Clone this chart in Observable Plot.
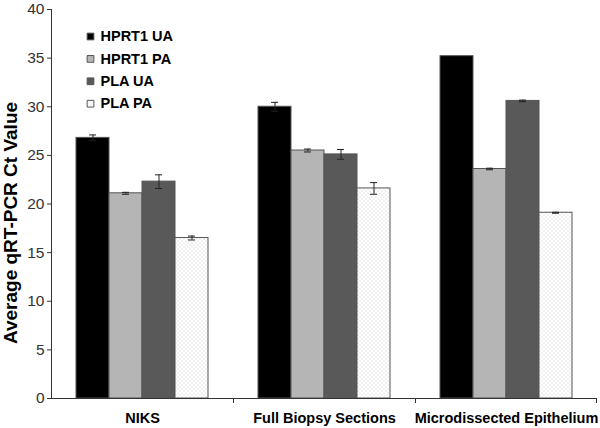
<!DOCTYPE html>
<html><head><meta charset="utf-8">
<script src="https://cdn.jsdelivr.net/npm/d3@7"></script>
<script src="https://cdn.jsdelivr.net/npm/@observablehq/plot@0.6"></script>
<style>body{margin:0;background:#fff}#chart svg{font-family:"Liberation Sans",Arial,sans-serif;background:#fff}</style>
</head><body><div id="chart"></div>
<script>
const categories = ["NIKS", "Full Biopsy Sections", "Microdissected Epithelium"];
const series = ["HPRT1 UA", "HPRT1 PA", "PLA UA", "PLA PA"];
const hprt1UA = [26.8, 30.0, 35.2];
const hprt1PA = [21.1, 25.5, 23.6];
const plaUA = [22.3, 25.1, 30.6];
const plaPA = [16.5, 21.6, 19.1];
const hprt1UAErr = [0.3, 0.45, 0];
const hprt1PAErr = [0.1, 0.15, 0.08];
const plaUAErr = [0.7, 0.5, 0.08];
const plaPAErr = [0.2, 0.6, 0.05];
const yTicks = [0, 5, 10, 15, 20, 25, 30, 35, 40];
const yLabel = "Average qRT-PCR Ct Value";
const colors = ["#000000", "#b5b5b5", "#595959", "url(#dots)"];

const values = [hprt1UA, hprt1PA, plaUA, plaPA];
const errs = [hprt1UAErr, hprt1PAErr, plaUAErr, plaPAErr];
const table = [];
categories.forEach((cat, i) => series.forEach((s, j) => {
  table.push({cat, series: s, value: values[j][i], err: errs[j][i]});
}));
const withErr = table.filter(d => d.err > 0);
const first = () => categories[0];

const legendMarks = series.flatMap((s, i) => [
  Plot.dot([s], {fx: first, frameAnchor: "top-left", dx: 39, dy: 27 + 22.4 * i,
    symbol: "square", r: 3.8, fill: d => d, stroke: "#555", strokeWidth: 1}),
  Plot.text([s], {fx: first, frameAnchor: "top-left", dx: 49, dy: 27 + 22.4 * i,
    text: d => d, textAnchor: "start", lineAnchor: "middle", fontWeight: "bold", fontSize: 14.5, fill: "#000"})
]);

const chart = Plot.plot({
  width: 600, height: 428,
  marginLeft: 50, marginRight: 3, marginTop: 9, marginBottom: 30,
  fx: {domain: categories, padding: 0},
  x: {domain: series, paddingInner: 0, paddingOuter: 0.75, axis: null},
  y: {domain: [0, 40]},
  color: {domain: series, range: colors},
  marks: [
    Plot.barY(table, {fx: "cat", x: "series", y: "value", fill: "series", stroke: "#555", strokeWidth: 1}),
    Plot.ruleX(withErr, {fx: "cat", x: "series", y1: d => d.value - d.err, y2: d => d.value + d.err, stroke: "#222"}),
    Plot.tickY(withErr, {fx: "cat", x: "series", y: d => d.value + d.err, inset: 13, stroke: "#222"}),
    Plot.tickY(withErr, {fx: "cat", x: "series", y: d => d.value - d.err, inset: 13, stroke: "#222"}),
    Plot.ruleY([0], {stroke: "#333"}),
    Plot.axisY(yTicks, {tickSize: 4, tickPadding: 3, fontSize: 15.5, label: null, stroke: "#333", fill: "#333"}),
    Plot.axisFx({anchor: "bottom", tickSize: 0, tickPadding: 14, fontSize: 14.5, fontWeight: "bold", label: null, fill: "#000"}),
    Plot.text([yLabel], {fx: first, frameAnchor: "left", rotate: -90, dx: -41, dy: 19,
      text: d => d, textAnchor: "middle", lineAnchor: "middle", fontWeight: "bold", fontSize: 19, fill: "#000"}),
    ...legendMarks
  ]
});

const svg = d3.select(chart);
const defs = svg.insert("defs", ":first-child");
const pat = defs.append("pattern").attr("id", "dots").attr("patternUnits", "userSpaceOnUse")
  .attr("width", 4).attr("height", 4);
pat.append("rect").attr("width", 4).attr("height", 4).attr("fill", "#fff");
pat.append("circle").attr("cx", 1).attr("cy", 1).attr("r", 0.6).attr("fill", "#c4c4c4");
pat.append("circle").attr("cx", 3).attr("cy", 3).attr("r", 0.6).attr("fill", "#c4c4c4");

// y axis line and category boundary ticks from the Plot scales
const fxS = chart.scale("fx"), yS = chart.scale("y");
const fxBand = d3.scaleBand(fxS.domain, fxS.range)
  .paddingInner(fxS.paddingInner ?? 0).paddingOuter(fxS.paddingOuter ?? 0)
  .align(fxS.align ?? 0.5).round(!!fxS.round);
const yLin = d3.scaleLinear(yS.domain, yS.range);
const g = svg.append("g").attr("stroke", "#333").attr("stroke-width", 1);
const x0 = fxBand(categories[0]) + 0.5;
g.append("line").attr("x1", x0).attr("x2", x0).attr("y1", yLin(40)).attr("y2", yLin(0) + 0.5);
categories.forEach((c, i) => {
  if (i === 0) return;
  const xb = Math.round(fxBand(c)) + 0.5;
  g.append("line").attr("x1", xb).attr("x2", xb).attr("y1", yLin(0)).attr("y2", yLin(0) + 5);
});
const xe = Math.round(fxBand(categories[categories.length - 1]) + fxBand.bandwidth()) - 0.5;
g.append("line").attr("x1", xe).attr("x2", xe).attr("y1", yLin(0)).attr("y2", yLin(0) + 5);

document.getElementById("chart").append(chart);
</script>
</body></html>
